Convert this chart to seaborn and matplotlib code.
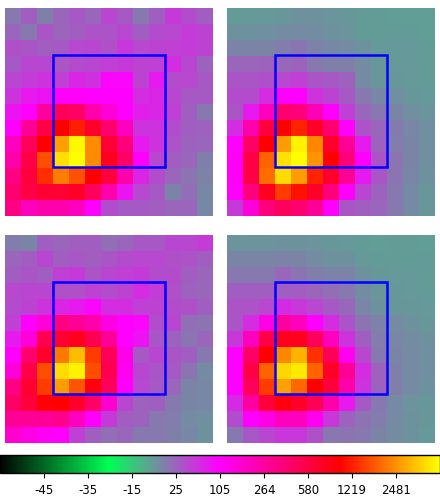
import numpy as np
import matplotlib
matplotlib.use('Agg')
import matplotlib.pyplot as plt
from matplotlib.colors import LinearSegmentedColormap, FuncNorm
from matplotlib.cm import ScalarMappable
from matplotlib.patches import Rectangle
import seaborn as sns

top_left = [
    [18, 30, 15, 25, 35, 25, 50, 35, 18, 30, 60, 45, 32],
    [25, 18, 38, 25, 30, 40, 40, 48, 30, 45, 48, 58, 52],
    [42, 38, 32, 35, 48, 50, 42, 62, 48, 52, 55, 58, 52],
    [35, 50, 50, 38, 45, 50, 55, 60, 52, 55, 70, 50, 28],
    [50, 58, 65, 55, 75, 68, 100, 100, 52, 85, 45, 48, 35],
    [65, 85, 90, 115, 115, 105, 105, 105, 70, 75, 50, 35, 35],
    [90, 105, 270, 510, 475, 250, 170, 105, 80, 75, 55, 30, 18],
    [105, 305, 580, 1060, 1250, 780, 440, 215, 65, 65, 45, 32, 28],
    [215, 510, 1060, 2850, 4850, 2450, 710, 400, 85, 65, 40, 28, 25],
    [250, 580, 1760, 4250, 5000, 2450, 855, 475, 105, 50, 30, 25, 15],
    [370, 640, 1400, 2300, 1800, 1060, 640, 250, 75, 45, 25, 20, 14],
    [440, 580, 710, 710, 780, 510, 250, 90, 48, 35, 14, 22, 12],
    [370, 215, 250, 250, 215, 105, 45, 35, 35, 32, 25, 25, 12],
]
top_right = [
    [4, 5, 5, 6, 8, 8, 7, 6, 4, 4, 3, 3, 3],
    [8, 8, 9, 10, 11, 10, 8, 7, 4, 4, 4, 4, 3],
    [14, 13, 13, 16, 19, 14, 12, 11, 8, 5, 5, 5, 4],
    [25, 25, 27, 24, 27, 18, 15, 15, 10, 6, 5, 5, 4],
    [38, 38, 43, 48, 55, 38, 35, 28, 11, 6, 6, 5, 4],
    [45, 45, 70, 105, 105, 65, 52, 35, 18, 12, 9, 6, 5],
    [38, 85, 215, 440, 400, 230, 105, 55, 25, 18, 13, 9, 7],
    [70, 250, 640, 1060, 1300, 780, 440, 105, 40, 25, 17, 12, 9],
    [105, 475, 1060, 2800, 4700, 2400, 750, 305, 85, 28, 16, 13, 9],
    [120, 580, 2000, 4300, 5000, 2600, 1060, 400, 105, 40, 20, 13, 9],
    [120, 580, 2100, 4200, 2800, 1300, 750, 305, 85, 38, 20, 12, 8],
    [105, 400, 850, 1550, 1150, 780, 400, 105, 50, 28, 18, 11, 6],
    [60, 170, 400, 510, 440, 305, 105, 38, 30, 25, 18, 11, 6],
]
bottom_left = [
    [16, 13, 30, 25, 30, 32, 22, 25, 35, 35, 50, 50, 58],
    [25, 33, 50, 30, 35, 32, 38, 45, 48, 48, 42, 40, 32],
    [30, 38, 32, 55, 60, 40, 50, 55, 60, 45, 45, 32, 25],
    [48, 50, 50, 42, 42, 52, 45, 52, 70, 58, 42, 28, 25],
    [45, 52, 65, 75, 85, 100, 70, 70, 55, 52, 45, 42, 30],
    [55, 105, 170, 370, 305, 250, 150, 105, 100, 45, 50, 22, 20],
    [85, 170, 540, 710, 850, 540, 305, 105, 90, 38, 28, 20, 25],
    [105, 440, 780, 2250, 3500, 1550, 520, 140, 35, 50, 38, 32, 18],
    [170, 580, 1760, 4200, 4700, 1760, 540, 130, 50, 38, 35, 20, 11],
    [370, 710, 1550, 2800, 1850, 950, 510, 105, 48, 35, 25, 13, 12],
    [475, 640, 1000, 1060, 780, 475, 190, 50, 28, 30, 17, 13, 12],
    [305, 305, 305, 335, 215, 105, 60, 32, 28, 18, 16, 11, 9],
    [190, 150, 120, 105, 55, 30, 22, 25, 18, 18, 15, 12, 8],
]
bottom_right = [
    [7, 7, 7, 8, 8, 7, 6, 5, 4, 3, 4, 4, 3],
    [13, 13, 13, 14, 13, 10, 8, 8, 5, 4, 4, 4, 4],
    [18, 18, 18, 24, 20, 15, 14, 14, 8, 6, 5, 5, 4],
    [30, 30, 30, 30, 33, 25, 22, 18, 10, 6, 6, 5, 4],
    [40, 40, 48, 72, 62, 48, 35, 24, 12, 8, 6, 6, 5],
    [38, 70, 150, 270, 215, 105, 70, 40, 20, 14, 11, 8, 6],
    [62, 215, 580, 850, 850, 510, 215, 65, 30, 16, 12, 10, 8],
    [105, 475, 1060, 2400, 3300, 1450, 520, 130, 50, 18, 13, 11, 9],
    [105, 580, 2000, 4100, 4500, 2000, 780, 305, 70, 28, 15, 11, 9],
    [105, 510, 1550, 2850, 2050, 1060, 640, 250, 65, 28, 15, 11, 8],
    [72, 270, 640, 950, 780, 520, 250, 85, 35, 18, 11, 7, 6],
    [45, 105, 150, 215, 215, 130, 62, 28, 20, 16, 11, 8, 6],
    [18, 35, 50, 62, 62, 42, 18, 20, 18, 13, 10, 8, 5],
]
tick_values = [-45, -35, -15, 25, 105, 264, 580, 1219, 2481]
scale_values = [-50, -45, -35, -15, 25, 105, 264, 580, 1219, 2481, 5000]
scale_pos = [0, .1, .2, .3, .4, .5, .6, .7, .8, .9, 1]

cmap = LinearSegmentedColormap.from_list(
    'cb', [(0, '#000000'), (.25, '#00ff55'), (.5, '#ff00ff'), (.775, '#ff0000'), (1, '#ffff00')], N=1024)
norm = FuncNorm((lambda v: np.interp(v, scale_values, scale_pos),
                 lambda p: np.interp(p, scale_pos, scale_values)), vmin=-50, vmax=5000)

W, H = 440, 498
fig = plt.figure(figsize=(W / 100, H / 100), dpi=100)

panels = [(top_left, 5, 8), (top_right, 227, 8), (bottom_left, 5, 235), (bottom_right, 227, 235)]
for grid, px, py in panels:
    ax = fig.add_axes([px / W, 1 - (py + 208) / H, 208 / W, 208 / H])
    sns.heatmap(np.array(grid), ax=ax, cmap=cmap, norm=norm, cbar=False,
                xticklabels=False, yticklabels=False)
    ax.add_patch(Rectangle((3, 2.95), 7, 7, fill=False, edgecolor='#0000ff', linewidth=1.8, clip_on=False))
    ax.tick_params(length=0)

cax = fig.add_axes([0, 1 - 473 / H, 1, 18 / H])
cb = fig.colorbar(ScalarMappable(norm=norm, cmap=cmap), cax=cax, orientation='horizontal')
cb.set_ticks(tick_values, labels=[str(t) for t in tick_values])
cb.minorticks_off()
cb.outline.set_linewidth(1.0)
cb.solids.set_edgecolor('face')
cax.tick_params(labelsize=8.5, length=3.5, width=0.8, pad=4.5)

fig.savefig('out.png', dpi=100)
